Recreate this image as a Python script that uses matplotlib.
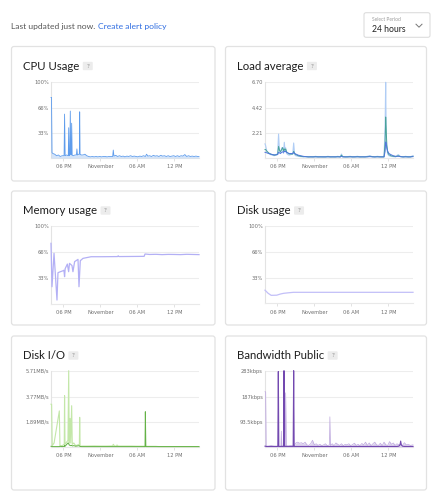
import matplotlib
matplotlib.use("Agg")
import matplotlib.pyplot as plt
from matplotlib.patches import FancyBboxPatch

plt.rcParams['font.family'] = ['Lato', 'DejaVu Sans']

# ---------------- data ----------------
x_tick_hours = [2, 8, 14, 20]
x_tick_labels = ["06 PM", "November", "06 AM", "12 PM"]

cpu_hours = [0, 0.08, 0.16, 0.3, 0.6, 0.9, 1.2, 1.5, 1.8, 2.12,
             2.2, 2.28, 2.5, 2.8, 2.87, 2.94, 3.05, 3.13, 3.2, 3.28,
             3.35, 3.42, 3.6, 3.9, 4.12, 4.2, 4.28, 4.5, 4.6, 4.65,
             4.7, 4.9, 5.2, 5.5, 5.8, 6.1, 6.4, 6.7, 7.0, 7.3,
             7.6, 7.9, 8.2, 8.5, 8.8, 9.1, 9.4, 9.7, 10.0, 10.1,
             10.2, 10.5, 10.8, 11.1, 11.4, 11.7, 12.0, 12.3, 12.6, 12.9,
             13.2, 13.5, 13.8, 14.1, 14.4, 14.7, 15.0, 15.3, 15.5, 15.7,
             16.0, 16.3, 16.6, 16.9, 17.2, 17.5, 17.8, 18.1, 18.4, 18.7,
             19.0, 19.3, 19.6, 19.9, 20.2, 20.5, 20.8, 21.1, 21.4, 21.7,
             22.0, 22.3, 22.6, 22.9, 23.2, 23.5, 23.8, 24.0]
cpu_pct = [80, 80, 7, 6, 5, 3, 4, 2, 3, 3,
           58, 3, 4, 3, 40, 3, 4, 62, 5, 4,
           46, 4, 3, 4, 4, 12, 4, 5, 5, 61,
           5, 4, 4, 5, 3, 2, 1.5, 2, 1.5, 2,
           1.5, 2, 1.5, 2, 2, 1.5, 2, 2, 2, 10.5,
           2.5, 3.5, 2, 3, 2, 2.5, 1.5, 2.5, 2, 3,
           2, 2.5, 2, 1.5, 2.5, 2, 3, 2, 5, 2.5,
           3, 2, 3.5, 2.5, 3, 2, 3.5, 2.5, 3, 2,
           3, 2, 2.5, 3, 2, 3, 2, 3, 2.5, 4.5,
           2, 3, 2, 2.5, 2, 2.5, 2, 2]

load_hours = [0, 0.1, 0.3, 0.6, 0.9, 1.2, 1.5, 1.8, 2.05, 2.2,
              2.35, 2.5, 2.7, 2.87, 3.0, 3.13, 3.25, 3.35, 3.5, 3.7,
              3.9, 4.2, 4.5, 4.65, 4.8, 5.0, 5.4, 5.8, 6.2, 6.6,
              7.0, 7.4, 7.8, 8.2, 8.6, 9.0, 9.4, 9.8, 10.2, 10.6,
              11.0, 11.4, 11.8, 12.2, 12.4, 12.6, 13.0, 13.4, 13.8, 14.2,
              14.6, 15.0, 15.4, 15.8, 16.2, 16.6, 17.0, 17.4, 17.8, 18.2,
              18.6, 19.0, 19.3, 19.48, 19.57, 19.65, 19.75, 19.9, 20.1, 20.4,
              20.8, 21.2, 21.6, 22.0, 22.4, 22.8, 23.2, 23.6, 24.0]
load_1m = [1.25, 1.1, 0.6, 0.4, 0.3, 0.25, 0.2, 0.3, 0.4, 2.12,
           0.6, 0.4, 0.9, 0.88, 0.4, 1.39, 0.6, 0.9, 0.4, 0.3,
           0.25, 0.3, 0.35, 1.33, 0.3, 0.2, 0.15, 0.12, 0.1, 0.12,
           0.1, 0.12, 0.1, 0.15, 0.1, 0.12, 0.1, 0.1, 0.15, 0.1,
           0.12, 0.1, 0.15, 0.1, 0.35, 0.12, 0.1, 0.12, 0.15, 0.1,
           0.12, 0.15, 0.1, 0.12, 0.1, 0.15, 0.2, 0.12, 0.1, 0.15,
           0.12, 0.1, 0.12, 2.8, 6.70, 2.2, 0.8, 0.35, 0.2, 0.15,
           0.12, 0.1, 0.3, 0.12, 0.1, 0.15, 0.1, 0.12, 0.2]
load_5m = [0.75, 0.75, 0.6, 0.45, 0.35, 0.3, 0.25, 0.28, 0.32, 1.03,
           0.7, 0.55, 0.75, 0.93, 0.6, 0.8, 0.7, 0.8, 0.55, 0.45,
           0.35, 0.35, 0.35, 0.6, 0.4, 0.3, 0.2, 0.15, 0.12, 0.12,
           0.1, 0.1, 0.1, 0.12, 0.1, 0.1, 0.1, 0.1, 0.12, 0.1,
           0.1, 0.1, 0.12, 0.1, 0.25, 0.12, 0.1, 0.1, 0.12, 0.1,
           0.1, 0.12, 0.1, 0.1, 0.1, 0.12, 0.15, 0.12, 0.1, 0.12,
           0.1, 0.1, 0.1, 1.4, 3.63, 2.6, 1.2, 0.5, 0.3, 0.2,
           0.15, 0.12, 0.2, 0.12, 0.1, 0.12, 0.1, 0.1, 0.15]
load_15m = [0.5, 0.5, 0.45, 0.4, 0.35, 0.3, 0.28, 0.28, 0.3, 0.5,
            0.45, 0.4, 0.5, 0.55, 0.5, 0.6, 0.55, 0.6, 0.5, 0.45,
            0.4, 0.4, 0.4, 0.5, 0.4, 0.35, 0.25, 0.2, 0.15, 0.12,
            0.1, 0.1, 0.1, 0.1, 0.1, 0.1, 0.1, 0.1, 0.1, 0.1,
            0.1, 0.1, 0.1, 0.1, 0.15, 0.1, 0.1, 0.1, 0.1, 0.1,
            0.1, 0.1, 0.1, 0.1, 0.1, 0.1, 0.12, 0.1, 0.1, 0.1,
            0.1, 0.1, 0.1, 0.6, 1.42, 1.3, 0.9, 0.6, 0.4, 0.3,
            0.2, 0.15, 0.15, 0.12, 0.1, 0.1, 0.1, 0.1, 0.12]

mem_hours = [0, 0.16, 0.49, 0.97, 1.13, 1.5, 1.95, 2.1, 2.2, 2.3,
             2.65, 2.86, 3.0, 3.4, 3.56, 3.83, 4.38, 4.54, 4.75, 5.19,
             6.5, 8.0, 9.5, 10.8, 10.9, 11.0, 12.5, 14.0, 15.1, 15.25,
             16.0, 17.0, 18.0, 19.0, 20.0, 21.0, 22.0, 23.0, 24.0]
mem_pct = [77.5, 21.8, 64.7, 4.7, 39.8, 41, 42.3, 43, 34.7, 45,
           50.9, 41.1, 51.8, 49, 41.1, 54, 56.9, 21.8, 55.2, 58.2,
           60.3, 60.3, 60.4, 60.5, 61.5, 60.5, 60.6, 60.7, 60.8, 63.8,
           63.2, 63.4, 63, 63.3, 63.2, 63, 63.4, 63.2, 63]

disk_hours = [0, 0.5, 1.0, 1.9, 2.5, 3.0, 3.8, 4.6, 8, 12, 16, 20, 24]
disk_pct = [17, 13, 10.3, 10.5, 12, 12.9, 13.6, 14.2, 14.2, 14.2, 14.2, 14.2, 14.2]

io_hours = [0, 0.1, 0.2, 0.5, 1.35, 1.45, 1.8, 2.15, 2.2, 2.27,
            2.75, 2.87, 2.95, 3.1, 3.2, 3.35, 3.45, 3.7, 4.0, 4.6,
            4.65, 4.72, 5.0, 6.0, 7.0, 8.0, 9.0, 10.0, 10.1, 10.3,
            10.6, 10.7, 10.9, 12.0, 13.0, 14.0, 15.0, 15.25, 15.3, 15.38,
            16.0, 17.0, 17.5, 18.0, 19.0, 20.0, 21.0, 22.0, 23.0, 24.0]
io_read = [3.2, 3.2, 0.1, 0.3, 2.7, 0.1, 0.1, 0.2, 3.84, 0.2,
           0.5, 5.71, 0.3, 2.14, 0.3, 3.09, 0.2, 0.3, 0.1, 0.2,
           2.22, 0.05, 0.07, 0.07, 0.08, 0.07, 0.07, 0.08, 0.2, 0.08,
           0.07, 0.15, 0.07, 0.07, 0.07, 0.06, 0.06, 0.05, 0.05, 0.05,
           0.05, 0.05, 0.03, 0.03, 0.03, 0.03, 0.03, 0.03, 0.03, 0.03]
io_write = [0.05, 0.05, 0.03, 0.03, 0.03, 0.05, 0.03, 0.05, 0.12, 0.05,
            0.3, 0.25, 0.15, 0.12, 0.1, 0.12, 0.08, 0.1, 0.06, 0.1,
            0.06, 0.04, 0.03, 0.03, 0.03, 0.03, 0.03, 0.03, 0.03, 0.03,
            0.03, 0.03, 0.03, 0.03, 0.03, 0.03, 0.03, 0.03, 2.64, 0.03,
            0.03, 0.03, 0.03, 0.03, 0.03, 0.03, 0.03, 0.03, 0.03, 0.03]

bw_hours = [0, 0.1, 0.18, 0.5, 1.0, 1.5, 2.08, 2.16, 2.24, 2.58,
            2.65, 2.72, 3.0, 3.08, 3.16, 3.28, 3.35, 3.45, 3.8, 4.2,
            4.57, 4.65, 4.73, 5.0, 5.3, 5.6, 5.9, 6.2, 6.5, 6.8,
            7.1, 7.4, 7.7, 8.0, 8.3, 8.6, 8.9, 9.2, 9.5, 9.8,
            10.1, 10.45, 10.52, 10.6, 10.9, 11.2, 11.5, 11.8, 12.1, 12.4,
            12.7, 13.0, 13.3, 13.6, 13.9, 14.2, 14.5, 14.8, 15.1, 15.4,
            15.7, 16.0, 16.3, 16.6, 16.9, 17.2, 17.5, 17.8, 18.1, 18.4,
            18.7, 19.0, 19.3, 19.6, 19.9, 20.2, 20.5, 20.8, 21.1, 21.4,
            21.7, 21.9, 22.0, 22.1, 22.3, 22.6, 22.9, 23.2, 23.6, 24.0]
bw_light = [205, 205, 3, 3, 5, 3, 3, 5, 3, 3,
            59, 3, 5, 8, 5, 3, 201, 5, 4, 6,
            5, 8, 4, 15, 18, 14, 16, 12, 18, 8,
            6, 12, 25, 8, 12, 6, 10, 5, 8, 12,
            5, 8, 112, 6, 12, 5, 15, 10, 6, 12,
            5, 10, 8, 12, 5, 9, 14, 6, 10, 5,
            13, 8, 18, 6, 15, 5, 12, 18, 8, 6,
            14, 5, 18, 8, 6, 20, 10, 15, 6, 12,
            8, 10, 14, 8, 6, 16, 8, 10, 6, 8]
bw_dark = [3, 3, 2, 2, 2, 2, 2, 280, 2, 2,
           3, 2, 2, 283, 2, 2, 3, 2, 2, 2,
           2, 283, 2, 2, 2, 2, 2, 2, 2, 2,
           2, 2, 2, 2, 2, 2, 2, 2, 2, 2,
           2, 2, 2, 2, 2, 2, 2, 2, 2, 2,
           2, 2, 2, 2, 2, 2, 2, 2, 2, 2,
           2, 2, 2, 2, 2, 2, 2, 2, 2, 2,
           2, 2, 2, 2, 2, 2, 2, 2, 2, 2,
           3, 8, 22, 8, 3, 2, 2, 2, 2, 2]

pct_ticks = [33, 66, 100]
pct_labels = ["33%", "66%", "100%"]
load_ticks = [2.21, 4.42, 6.70]
io_ticks = [1.89, 3.77, 5.71]
bw_ticks = [93.5, 187, 283]

# ---------------- figure ----------------
W, H = 443, 500
fig = plt.figure(figsize=(W / 100, H / 100), dpi=100)
fig.patch.set_facecolor('white')
ov = fig.add_axes([0, 0, 1, 1])
ov.set_xlim(0, W)
ov.set_ylim(H, 0)
ov.axis('off')
ov.set_zorder(0)

renderer = fig.canvas.get_renderer()


def right_px(t):
    bb = t.get_window_extent(renderer)
    return bb.x1


# header
t1 = ov.text(11, 26.7, "Last updated just now.", fontsize=6.1, color='#555555',
             va='center', ha='left')
xr = right_px(t1)
ov.text(xr + 3, 26.7, "Create alert policy", fontsize=6.1, color='#2f6de1',
        va='center', ha='left')
ov.add_patch(FancyBboxPatch((364, 12.7), 66, 24.6,
                            boxstyle='round,pad=0,rounding_size=2',
                            fc='white', ec='#dddddd', lw=0.8))
ov.text(372, 19.8, "Select Period", fontsize=3.5, color='#9a9a9a', va='center', ha='left')
ov.text(372, 29, "24 hours", fontsize=6.2, color='#222222', va='center', ha='left')
ov.plot([416, 419, 422], [24.2, 27.2, 24.2], color='#777777', lw=0.7)

# cards
cards = [
    (11.5, 46.5, 215, 181, "CPU Usage"),
    (225.5, 46.5, 426.5, 181, "Load average"),
    (11.5, 191, 215, 325, "Memory usage"),
    (225.5, 191, 426.5, 325, "Disk usage"),
    (11.5, 336, 215, 490, "Disk I/O"),
    (225.5, 336, 426.5, 490, "Bandwidth Public"),
]
title_y_off = 19.5
for (x0, y0, x1, y1, title) in cards:
    ov.add_patch(FancyBboxPatch((x0, y0), x1 - x0, y1 - y0,
                                boxstyle='round,pad=0,rounding_size=2.5',
                                fc='white', ec='#e2e2e2', lw=0.9))
    tx = x0 + 11.2
    ty = y0 + title_y_off
    t = ov.text(tx, ty, title, fontsize=8.2, color='#1e1e1e', va='center', ha='left')
    r = right_px(t)
    ov.add_patch(FancyBboxPatch((r + 3.7, ty - 4.2), 10, 8.4,
                                boxstyle='round,pad=0,rounding_size=1',
                                fc='#ececec', ec='none'))
    ov.text(r + 8.7, ty, "?", fontsize=4.5, color='#8a8a8a', va='center', ha='center')


def make_ax(x0, x1, y0, y1, ymax, ticks, labels):
    ax = fig.add_axes([x0 / W, 1 - y1 / H, (x1 - x0) / W, (y1 - y0) / H])
    ax.set_zorder(2)
    ax.patch.set_alpha(0)
    ax.set_xlim(0, 24)
    ax.set_ylim(0, ymax)
    ax.set_yticks(ticks)
    ax.set_yticklabels(labels, family='DejaVu Sans')
    ax.set_xticks(x_tick_hours)
    ax.set_xticklabels(x_tick_labels, family='DejaVu Sans')
    for s in ['top', 'right']:
        ax.spines[s].set_visible(False)
    ax.spines['left'].set_color('#e3e3e3')
    ax.spines['bottom'].set_color('#e9e9e9')
    ax.spines['left'].set_linewidth(0.8)
    ax.spines['bottom'].set_linewidth(0.8)
    ax.spines['left'].set_zorder(1)
    ax.spines['bottom'].set_zorder(1)
    ax.tick_params(axis='y', length=0, pad=1.5, labelsize=3.7, labelcolor='#6f6f6f')
    ax.tick_params(axis='x', length=2, width=0.6, color='#dddddd', pad=2.5,
                   labelsize=3.7, labelcolor='#6f6f6f')
    ax.grid(axis='y', color='#ededed', lw=0.8)
    ax.set_axisbelow(True)
    return ax


# CPU
ax = make_ax(51, 199, 82.3, 158, 100, pct_ticks, pct_labels)
ax.fill_between(cpu_hours, cpu_pct, color='#b7d2f5', alpha=0.6, lw=0, zorder=3)
ax.plot(cpu_hours, cpu_pct, color='#5e9cec', lw=0.6, zorder=4, clip_on=False)

# Load average
ax = make_ax(265, 413, 82.3, 158, 6.70, load_ticks, ["2.21", "4.42", "6.70"])
ax.plot(load_hours, load_1m, color='#b0cdf5', lw=0.8, zorder=3, clip_on=False)
ax.plot(load_hours, load_5m, color='#4aa39a', lw=0.7, zorder=4, clip_on=False)
ax.plot(load_hours, load_15m, color='#5077dc', lw=0.7, zorder=5, clip_on=False)

# Memory
ax = make_ax(51, 199, 225.8, 303.7, 100, pct_ticks, pct_labels)
ax.plot(mem_hours, mem_pct, color='#b3b0f5', lw=0.9, zorder=3, clip_on=False)

# Disk usage
ax = make_ax(265, 413, 226, 303.3, 100, pct_ticks, pct_labels)
ax.plot(disk_hours, disk_pct, color='#c2bff8', lw=0.9, zorder=3, clip_on=False)

# Disk I/O
ax = make_ax(51, 199, 370.7, 447, 5.71, io_ticks, ["1.89MB/s", "3.77MB/s", "5.71MB/s"])
ax.plot(io_hours, io_read, color='#c3e7a8', lw=0.8, zorder=3, clip_on=False)
ax.plot(io_hours, io_write, color='#64b246', lw=0.7, zorder=4, clip_on=False)

# Bandwidth
ax = make_ax(265, 413, 370.7, 447, 283, bw_ticks, ["93.5kbps", "187kbps", "283kbps"])
ax.fill_between(bw_hours, bw_light, color='#d5c8ea', alpha=0.8, lw=0, zorder=3)
ax.plot(bw_hours, bw_light, color='#bea9de', lw=0.5, zorder=4, clip_on=False)
ax.plot(bw_hours, bw_dark, color='#7349b0', lw=0.8, zorder=5, clip_on=False)

fig.savefig("out.png", dpi=100, facecolor='white')
